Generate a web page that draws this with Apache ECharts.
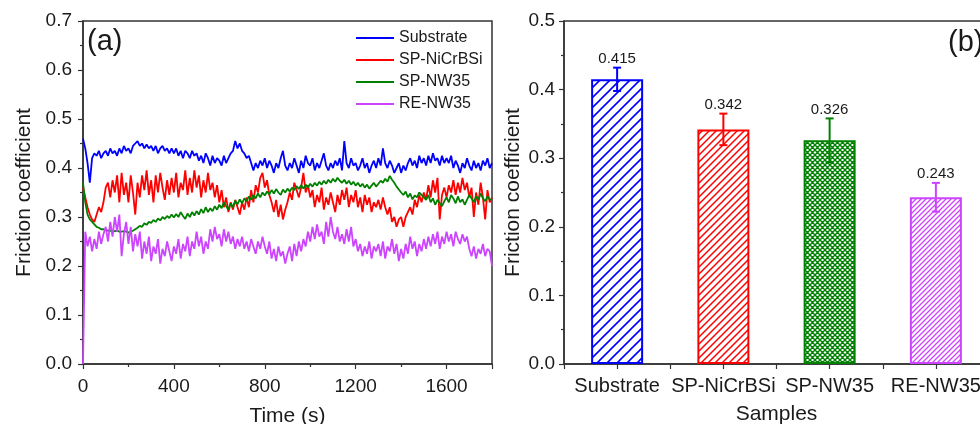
<!DOCTYPE html>
<html>
<head>
<meta charset="utf-8">
<script src="https://cdn.jsdelivr.net/npm/echarts@6/dist/echarts.min.js"></script>
<style>
  html, body { margin: 0; padding: 0; background: #fff; }
  #chart { width: 980px; height: 424px; }
</style>
</head>
<body>
<div id="chart"></div>
<script>
// (a) friction curves, one reading every 10 s from 0 to 1800 s
var sampleStep = 10;
var seriesNames = ["Substrate", "SP-NiCrBSi", "SP-NW35", "RE-NW35"];
var substrate = [
  0.46, 0.44, 0.41, 0.37, 0.42, 0.43, 0.425, 0.435, 0.42, 0.43,
  0.435, 0.425, 0.44, 0.43, 0.435, 0.425, 0.44, 0.43, 0.445, 0.435,
  0.44, 0.43, 0.445, 0.45, 0.455, 0.445, 0.45, 0.44, 0.448, 0.44,
  0.445, 0.435, 0.445, 0.43, 0.44, 0.445, 0.435, 0.44, 0.43, 0.44,
  0.43, 0.44, 0.425, 0.435, 0.42, 0.435, 0.43, 0.42, 0.435, 0.425,
  0.43, 0.415, 0.425, 0.41, 0.43, 0.42, 0.405, 0.425, 0.41, 0.42,
  0.415, 0.405, 0.425, 0.41, 0.42, 0.43, 0.435, 0.455, 0.44, 0.45,
  0.435, 0.43, 0.42, 0.425, 0.41, 0.395, 0.41, 0.4, 0.415, 0.405,
  0.42, 0.4, 0.415, 0.405, 0.39, 0.41, 0.4, 0.42, 0.435, 0.405,
  0.395, 0.41, 0.4, 0.42, 0.405, 0.39, 0.415, 0.4, 0.425, 0.41,
  0.405, 0.42, 0.395, 0.41, 0.4, 0.415, 0.43, 0.405, 0.395, 0.41,
  0.4, 0.415, 0.405, 0.42, 0.395, 0.455, 0.41, 0.4, 0.42, 0.405,
  0.41, 0.395, 0.405, 0.42, 0.4, 0.41, 0.39, 0.405, 0.415, 0.4,
  0.42, 0.405, 0.44, 0.41, 0.4, 0.415, 0.405, 0.39, 0.4, 0.41,
  0.39, 0.405, 0.395, 0.41, 0.42, 0.405, 0.415, 0.4, 0.425, 0.41,
  0.42, 0.405, 0.425, 0.41, 0.43, 0.415, 0.42, 0.405, 0.425, 0.41,
  0.42, 0.41, 0.425, 0.4, 0.415, 0.405, 0.39, 0.41, 0.4, 0.42,
  0.405, 0.395, 0.415, 0.4, 0.41, 0.395, 0.415, 0.405, 0.42, 0.4,
  0.41
];
var spNiCrBSi = [
  0.36, 0.34, 0.32, 0.305, 0.295, 0.29, 0.305, 0.32, 0.31, 0.33,
  0.36, 0.37, 0.34, 0.375, 0.35, 0.385, 0.33, 0.39, 0.345, 0.37,
  0.33, 0.385, 0.35, 0.305, 0.37, 0.34, 0.385, 0.355, 0.395, 0.345,
  0.375, 0.33, 0.385, 0.35, 0.39, 0.36, 0.335, 0.375, 0.345, 0.38,
  0.35, 0.39, 0.34, 0.37, 0.355, 0.395, 0.345, 0.38, 0.35, 0.395,
  0.36, 0.385, 0.34, 0.375, 0.35, 0.39, 0.355, 0.37, 0.34, 0.365,
  0.33, 0.355, 0.32, 0.34, 0.31, 0.33, 0.315, 0.335, 0.32, 0.305,
  0.33, 0.315, 0.34, 0.32, 0.355, 0.33, 0.365, 0.35, 0.38, 0.39,
  0.36, 0.375, 0.345, 0.33, 0.31, 0.335, 0.3, 0.325, 0.295, 0.315,
  0.33, 0.35, 0.335, 0.37, 0.355, 0.34, 0.36, 0.39, 0.35, 0.365,
  0.34, 0.355, 0.32, 0.345, 0.33, 0.36, 0.315, 0.34, 0.325, 0.35,
  0.33, 0.31, 0.345, 0.325, 0.355, 0.335, 0.36, 0.32, 0.345, 0.33,
  0.355, 0.32, 0.34, 0.31, 0.345, 0.325, 0.34, 0.31, 0.33, 0.32,
  0.335, 0.315, 0.34, 0.32, 0.305, 0.32, 0.29, 0.3, 0.28, 0.295,
  0.3, 0.28, 0.3, 0.31, 0.32, 0.305, 0.335, 0.32, 0.345, 0.33,
  0.35, 0.335, 0.365, 0.34, 0.375, 0.35, 0.38, 0.295, 0.345, 0.36,
  0.34, 0.365, 0.35, 0.375, 0.345, 0.37, 0.35, 0.38, 0.355, 0.37,
  0.34, 0.36, 0.3, 0.35, 0.325, 0.37, 0.34, 0.295, 0.355, 0.33,
  0.34
];
var spNW35 = [
  0.37, 0.33, 0.305, 0.295, 0.29, 0.285, 0.28, 0.278, 0.275, 0.275,
  0.273, 0.272, 0.272, 0.27, 0.271, 0.272, 0.27, 0.27, 0.271, 0.27,
  0.268, 0.27, 0.272, 0.275, 0.278, 0.282, 0.28, 0.287, 0.284, 0.29,
  0.288, 0.294, 0.29, 0.297, 0.293, 0.3, 0.296, 0.302, 0.298, 0.305,
  0.299, 0.306, 0.3, 0.31, 0.302, 0.296, 0.307, 0.3, 0.31, 0.303,
  0.312, 0.305, 0.316, 0.308, 0.32, 0.31, 0.318, 0.312, 0.322, 0.315,
  0.325, 0.318, 0.33, 0.322, 0.315, 0.328, 0.32, 0.333, 0.326, 0.336,
  0.328, 0.338, 0.332, 0.342, 0.335, 0.345, 0.338, 0.348, 0.34, 0.35,
  0.344, 0.352, 0.346, 0.355, 0.348, 0.357, 0.35, 0.345, 0.356, 0.35,
  0.358, 0.352, 0.36, 0.355, 0.363, 0.357, 0.365, 0.358, 0.366, 0.36,
  0.368, 0.362, 0.37, 0.364, 0.372, 0.366, 0.374, 0.368, 0.376, 0.37,
  0.378, 0.372, 0.38, 0.374, 0.37, 0.376, 0.368, 0.374, 0.366, 0.372,
  0.364, 0.37, 0.362, 0.368, 0.36, 0.366, 0.358, 0.364, 0.37, 0.362,
  0.368, 0.374, 0.37, 0.378, 0.372, 0.384, 0.376, 0.37, 0.362, 0.356,
  0.35, 0.345, 0.352, 0.34, 0.348, 0.336, 0.344, 0.34, 0.35, 0.345,
  0.34, 0.335, 0.345, 0.33, 0.338, 0.325, 0.335, 0.328, 0.322, 0.332,
  0.34, 0.33, 0.345, 0.338, 0.328, 0.342, 0.33, 0.336, 0.325, 0.335,
  0.345, 0.338, 0.33, 0.342, 0.335, 0.348, 0.338, 0.332, 0.342, 0.336,
  0.335
];
var reNW35 = [
  0.0, 0.27, 0.24, 0.26, 0.23, 0.255, 0.235, 0.27, 0.245, 0.265,
  0.28, 0.25, 0.29, 0.26, 0.3, 0.27, 0.305, 0.22, 0.265, 0.29,
  0.245, 0.28, 0.23, 0.265, 0.24, 0.27, 0.215, 0.25, 0.225, 0.26,
  0.21, 0.24, 0.225, 0.255, 0.205, 0.235, 0.22, 0.25, 0.23, 0.21,
  0.24, 0.225, 0.255, 0.215, 0.245, 0.23, 0.26, 0.22, 0.25, 0.235,
  0.27, 0.24, 0.26, 0.225, 0.25, 0.235, 0.275, 0.25, 0.28, 0.255,
  0.265, 0.24, 0.275, 0.25, 0.27, 0.245, 0.26, 0.235, 0.255, 0.24,
  0.26, 0.235, 0.25, 0.23, 0.255, 0.24, 0.225, 0.25, 0.235, 0.26,
  0.24, 0.225, 0.25, 0.215, 0.235, 0.21, 0.24, 0.22, 0.23, 0.205,
  0.225, 0.24, 0.21, 0.245, 0.22, 0.25, 0.23, 0.255, 0.24, 0.27,
  0.25, 0.28, 0.255, 0.285, 0.26, 0.27, 0.245, 0.29, 0.26, 0.3,
  0.27, 0.255, 0.28, 0.25, 0.265, 0.245, 0.275, 0.25, 0.28, 0.24,
  0.255, 0.23, 0.245, 0.22, 0.24, 0.225, 0.25, 0.215, 0.24, 0.23,
  0.245, 0.22, 0.25, 0.215, 0.24, 0.23, 0.255, 0.225, 0.245, 0.21,
  0.235, 0.215, 0.245, 0.225, 0.26, 0.235, 0.25, 0.22, 0.245, 0.23,
  0.255, 0.235, 0.26, 0.24, 0.265, 0.245, 0.27, 0.235, 0.26, 0.245,
  0.27, 0.25, 0.265, 0.24, 0.27, 0.255, 0.245, 0.265, 0.25, 0.26,
  0.235, 0.22, 0.24, 0.215, 0.235, 0.225, 0.245, 0.22, 0.235, 0.23,
  0.2
];
var lineColors = ["#0000ff", "#ff0000", "#008000", "#cc44ff"];

// (b) average friction coefficient with error bars
var sampleNames = ["Substrate", "SP-NiCrBSi", "SP-NW35", "RE-NW35"];
var meanCof = [0.415, 0.342, 0.326, 0.243];
var cofError = [0.017, 0.023, 0.032, 0.021];
var barColors = ["#0000ff", "#ff0000", "#008000", "#cc44ff"];

var FONT = "'Liberation Sans', Arial, sans-serif";
var TEXT = "#1a1a1a";
var AXIS = "#333";

// 斜线 / 网格填充
function hatch(color, step, lw, cross) {
  var c = document.createElement("canvas");
  c.width = step;
  c.height = step;
  var ctx = c.getContext("2d");
  ctx.strokeStyle = color;
  ctx.lineWidth = lw;
  ctx.beginPath();
  ctx.moveTo(-2, 2); ctx.lineTo(2, -2);
  ctx.moveTo(0, step); ctx.lineTo(step, 0);
  ctx.moveTo(step - 2, step + 2); ctx.lineTo(step + 2, step - 2);
  if (cross) {
    ctx.moveTo(-2, step - 2); ctx.lineTo(2, step + 2);
    ctx.moveTo(0, 0); ctx.lineTo(step, step);
    ctx.moveTo(step - 2, -2); ctx.lineTo(step + 2, 2);
  }
  ctx.stroke();
  return c;
}
var fills = [
  hatch(barColors[0], 10, 1.6, false),
  hatch(barColors[1], 7, 1.5, false),
  hatch(barColors[2], 5, 1.4, true),
  hatch(barColors[3], 5, 1.3, false)
];

function withTime(values) {
  return values.map(function (v, i) {
    return [i * sampleStep, v];
  });
}

var lineSeries = [substrate, spNiCrBSi, spNW35, reNW35].map(function (vals, i) {
  return {
    name: seriesNames[i],
    type: "line",
    xAxisIndex: 0,
    yAxisIndex: 0,
    symbol: "none",
    data: withTime(vals),
    lineStyle: { color: lineColors[i], width: 1.8 },
    itemStyle: { color: lineColors[i] },
    animation: false
  };
});

var barData = meanCof.map(function (v, i) {
  return {
    value: [i + 1, v],
    itemStyle: {
      color: { image: fills[i], repeat: "repeat" },
      borderColor: barColors[i],
      borderWidth: 2
    }
  };
});

var errData = meanCof.map(function (v, i) {
  return [i + 1, v, cofError[i]];
});

function valueAxis(gridIndex, max, labelMargin, nameGap) {
  return {
    type: "value",
    gridIndex: gridIndex,
    min: 0,
    max: max,
    interval: 0.1,
    name: "Friction coefficient",
    nameLocation: "middle",
    nameGap: nameGap,
    nameTextStyle: { fontFamily: FONT, fontSize: 21, color: TEXT },
    axisLine: { show: true, lineStyle: { color: AXIS, width: 1.5 } },
    axisTick: { show: true, length: 5, lineStyle: { color: AXIS, width: 1.2 } },
    minorTick: { show: true, splitNumber: 2, length: 3, lineStyle: { color: AXIS, width: 1.2 } },
    splitLine: { show: false },
    axisLabel: {
      margin: labelMargin,
      fontFamily: FONT,
      fontSize: 19,
      color: TEXT,
      formatter: function (v) { return v.toFixed(1); }
    }
  };
}

var chart = echarts.init(document.getElementById("chart"), null, { renderer: "canvas" });
chart.setOption({
  animation: false,
  backgroundColor: "#fff",
  grid: [
    { left: 83, top: 21, width: 409, height: 343, show: true, borderColor: AXIS, borderWidth: 1.5, outerBoundsMode: "none", containLabel: false },
    { left: 564, top: 21, width: 425, height: 343, show: true, borderColor: AXIS, borderWidth: 1.5, outerBoundsMode: "none", containLabel: false }
  ],
  legend: {
    orient: "vertical",
    left: 351,
    top: 25,
    itemWidth: 38,
    itemHeight: 2,
    itemGap: 6,
    icon: "rect",
    data: seriesNames,
    textStyle: { fontFamily: FONT, fontSize: 16, color: TEXT }
  },
  xAxis: [
    {
      type: "value",
      gridIndex: 0,
      min: 0,
      max: 1800,
      interval: 400,
      name: "Time (s)",
      nameLocation: "middle",
      nameGap: 42,
      nameTextStyle: { fontFamily: FONT, fontSize: 21, color: TEXT },
      axisLine: { show: true, lineStyle: { color: AXIS, width: 1.5 } },
      axisTick: { show: true, length: 5, lineStyle: { color: AXIS, width: 1.2 } },
      minorTick: { show: true, splitNumber: 2, length: 3, lineStyle: { color: AXIS, width: 1.2 } },
      splitLine: { show: false },
      axisLabel: {
        margin: 13,
        fontFamily: FONT,
        fontSize: 19,
        color: TEXT,
        showMaxLabel: false,
        formatter: function (v) { return String(v); }
      }
    },
    {
      type: "value",
      gridIndex: 1,
      min: 0.5,
      max: 4.5,
      interval: 0.5,
      name: "Samples",
      nameLocation: "middle",
      nameGap: 40,
      nameTextStyle: { fontFamily: FONT, fontSize: 21, color: TEXT },
      axisLine: { show: true, lineStyle: { color: AXIS, width: 1.5 } },
      axisTick: { show: true, length: 5, lineStyle: { color: AXIS, width: 1.2 } },
      splitLine: { show: false },
      axisLabel: {
        margin: 12,
        fontFamily: FONT,
        fontSize: 20,
        color: TEXT,
        showMinLabel: true,
        showMaxLabel: true,
        formatter: function (v) {
          return Number.isInteger(v) ? sampleNames[v - 1] : "";
        }
      }
    }
  ],
  yAxis: [valueAxis(0, 0.7, 11, 48), valueAxis(1, 0.5, 9, 40)],
  graphic: [
    { type: "text", left: 87, top: 27, style: { text: "(a)", fontFamily: FONT, fontSize: 29, fill: TEXT } },
    { type: "text", left: 948, top: 28, style: { text: "(b)", fontFamily: FONT, fontSize: 29, fill: TEXT } }
  ],
  series: lineSeries.concat([
    {
      type: "bar",
      xAxisIndex: 1,
      yAxisIndex: 1,
      barWidth: 52,
      data: barData
    },
    {
      type: "custom",
      xAxisIndex: 1,
      yAxisIndex: 1,
      data: errData,
      z: 5,
      renderItem: function (params, api) {
        var x = api.value(0), v = api.value(1), e = api.value(2);
        var top = api.coord([x, v + e]);
        var bot = api.coord([x, v - e]);
        var col = barColors[params.dataIndex];
        var st = { stroke: col, lineWidth: 2 };
        return {
          type: "group",
          children: [
            { type: "line", shape: { x1: top[0], y1: top[1], x2: bot[0], y2: bot[1] }, style: st },
            { type: "line", shape: { x1: top[0] - 4, y1: top[1], x2: top[0] + 4, y2: top[1] }, style: st },
            { type: "line", shape: { x1: bot[0] - 4, y1: bot[1], x2: bot[0] + 4, y2: bot[1] }, style: st },
            {
              type: "text",
              x: top[0],
              y: top[1] - 9,
              style: {
                text: v.toFixed(3),
                fontFamily: FONT,
                fontSize: 15,
                fill: TEXT,
                align: "center",
                verticalAlign: "middle"
              }
            }
          ]
        };
      }
    }
  ])
});
</script>
</body>
</html>
